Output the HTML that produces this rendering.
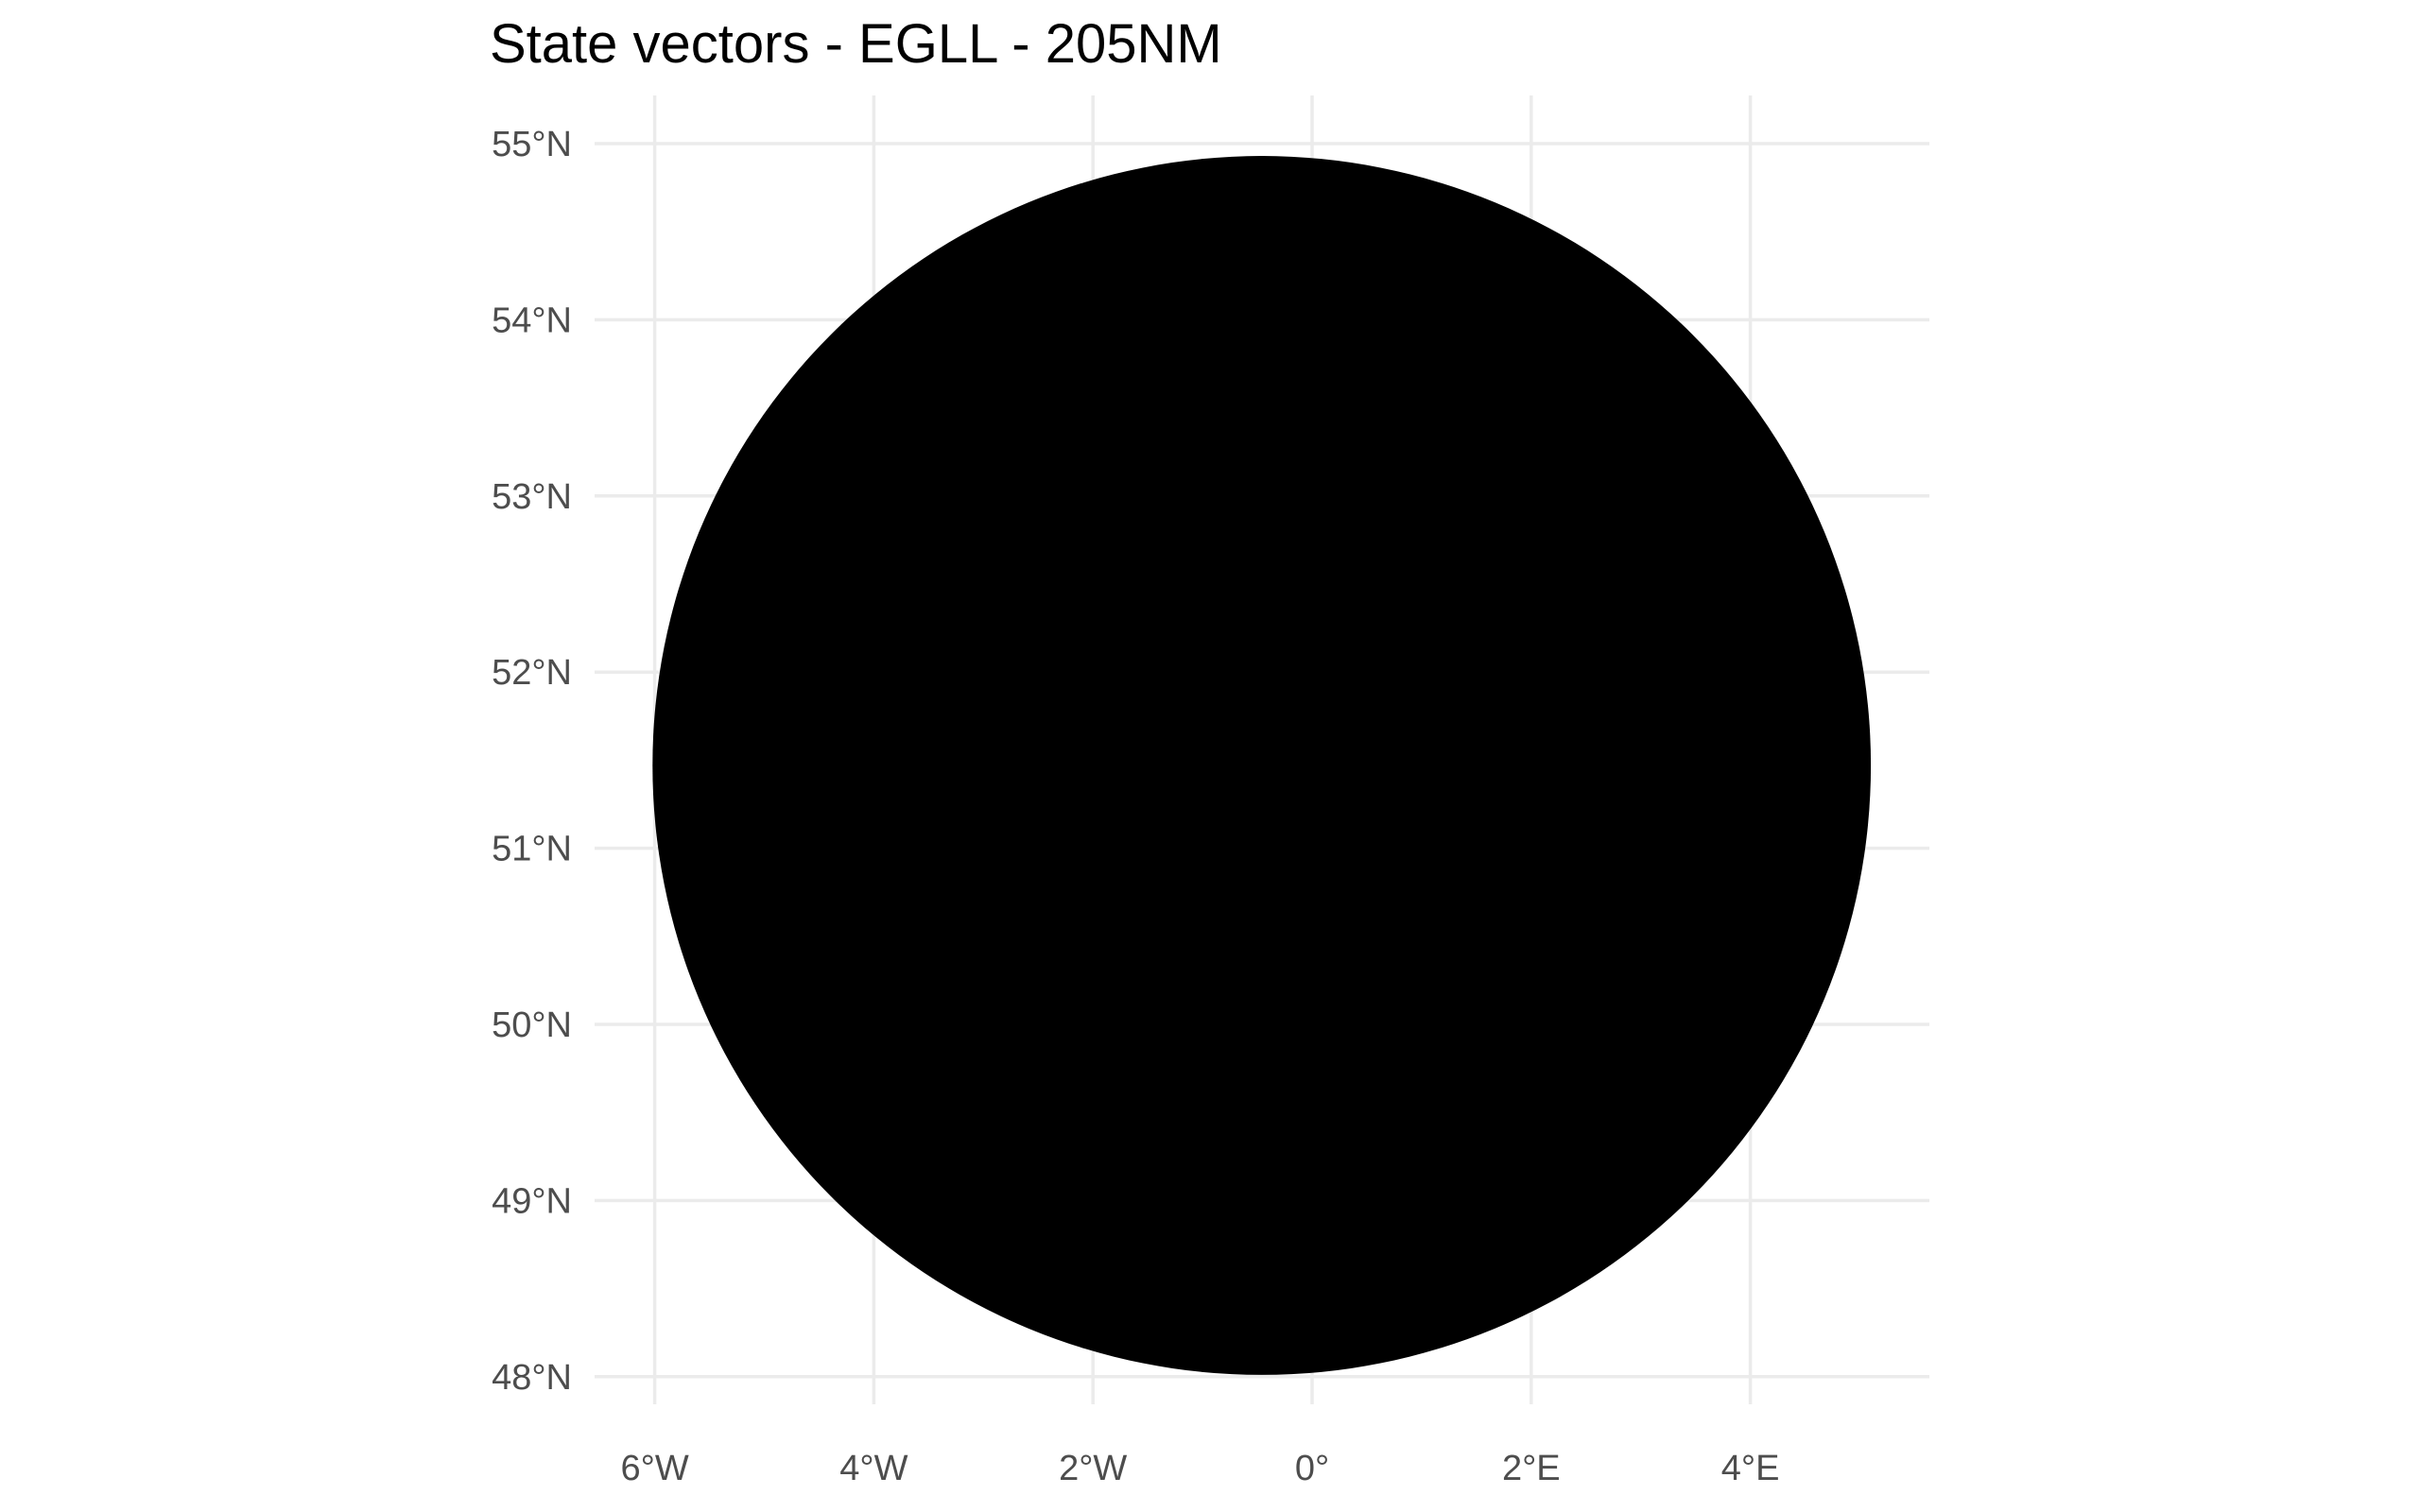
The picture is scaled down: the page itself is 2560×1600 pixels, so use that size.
<!DOCTYPE html>
<html><head><meta charset="utf-8"><style>
html,body{margin:0;padding:0;background:#fff;}
svg{display:block;font-family:"Liberation Sans",sans-serif;}
</style></head><body>
<svg id="chart" width="2560" height="1600" viewBox="0 0 2560 1600">
<text x="518" y="66" font-size="58" fill="#000">State vectors - EGLL - 205NM</text>
<g id="grid"></g><g id="marks"></g><g id="labels"></g>
</svg>
<script>
const lonTicks = [-6, -4, -2, 0, 2, 4];
const lonLabels = ["6°W", "4°W", "2°W", "0°", "2°E", "4°E"];
const latTicks = [48, 49, 50, 51, 52, 53, 54, 55];
const latLabels = ["48°N", "49°N", "50°N", "51°N", "52°N", "53°N", "54°N", "55°N"];
const centerLon = [-0.46];
const centerLat = [51.47];
const radiusLonDeg = [5.56];
const radiusLatDeg = [3.46];

const NS = "http://www.w3.org/2000/svg";
function xScale(lon){ return 1388 + lon * 115.9; }
function yScale(lat){ return 152 + (55 - lat) * 186.4; }
const panel = {x0: 629, x1: 2041, y0: 101, y1: 1486};
const grid = document.getElementById('grid');
const labels = document.getElementById('labels');
const marks = document.getElementById('marks');
function mk(tag, attrs, parent){ const e = document.createElementNS(NS, tag); for (const k in attrs) e.setAttribute(k, attrs[k]); parent.appendChild(e); return e; }

lonTicks.forEach((v, i) => {
  const x = xScale(v);
  const l = mk('line', {x1: x, x2: x, y1: panel.y0, y2: panel.y1, stroke: '#ebebeb', 'stroke-width': 3.5}, grid);
  
  
  const t = mk('text', {x: x, y: 1566, 'text-anchor': 'middle', 'font-size': 38, fill: '#4d4d4d'}, labels);
  t.textContent = lonLabels[i];
  
  
});
latTicks.forEach((v, i) => {
  const y = yScale(v);
  const l = mk('line', {x1: panel.x0, x2: panel.x1, y1: y, y2: y, stroke: '#ebebeb', 'stroke-width': 3.5}, grid);
  
  
  const t = mk('text', {x: 605, y: y + 13, 'text-anchor': 'end', 'font-size': 38, fill: '#4d4d4d'}, labels);
  t.textContent = latLabels[i];
  
  
});
const cx = xScale(centerLon[0]), cy = yScale(centerLat[0]);
const rx = xScale(centerLon[0] + radiusLonDeg[0]) - cx;
const ry = yScale(centerLat[0] - radiusLatDeg[0]) - cy;
const disc = mk('ellipse', {cx: cx, cy: cy, rx: rx, ry: ry, fill: '#000'}, marks);


</script>
</body></html>
